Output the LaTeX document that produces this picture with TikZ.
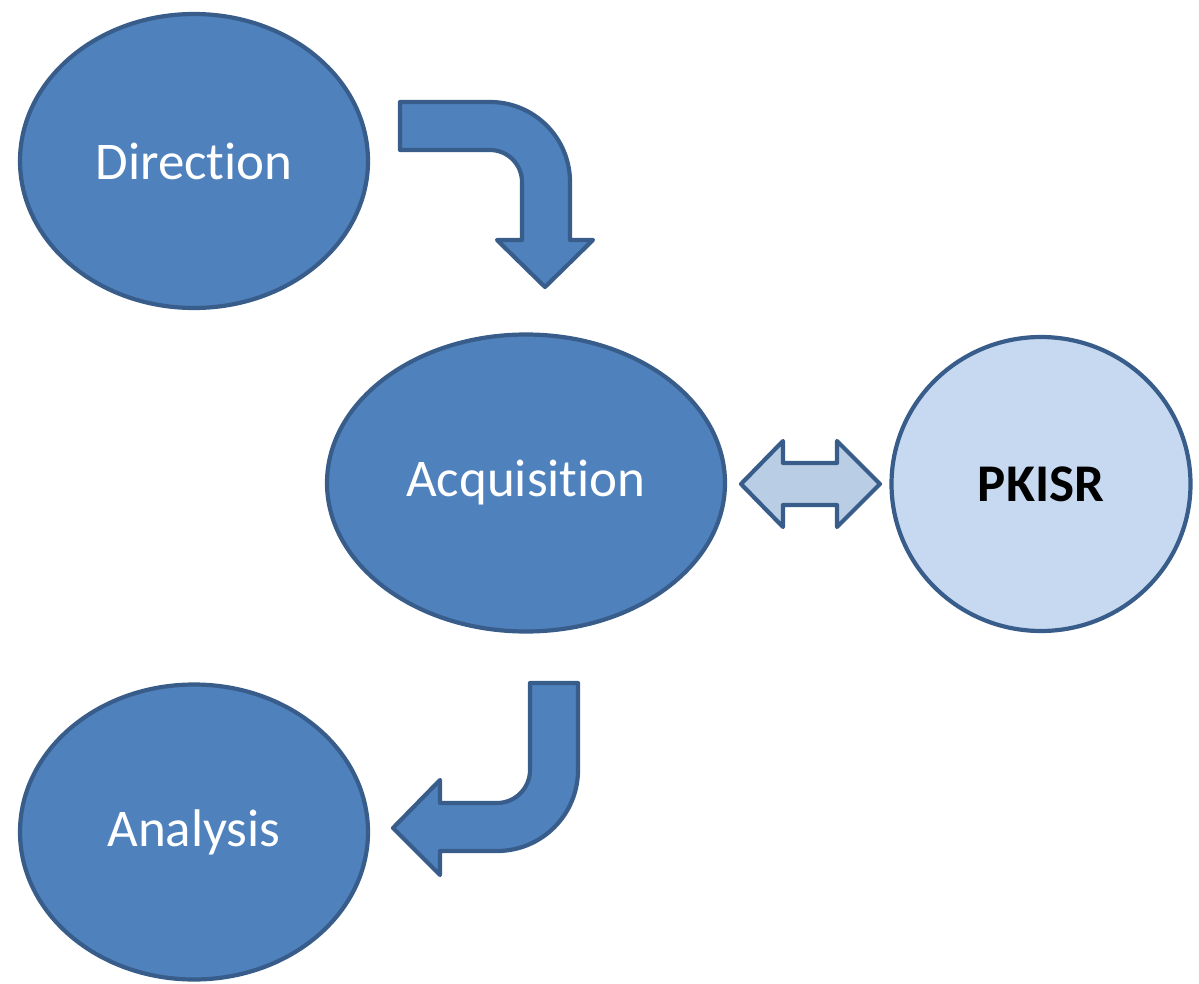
\documentclass[tikz,border=0pt]{standalone}
\usepackage{fontspec}
\setmainfont{Carlito}[Ligatures=NoCommon]
\usetikzlibrary{shapes.geometric}
\definecolor{stagefill}{HTML}{4F81BD}
\definecolor{stageline}{HTML}{385D8A}
\definecolor{srcfill}{HTML}{C6D9F1}
\definecolor{dblfill}{HTML}{B9CDE5}
\tikzset{
  stage/.style={ellipse,draw=stageline,fill=stagefill,line width=4.2pt,
    inner sep=0pt,text=white,font=\fontsize{53}{63}\selectfont},
  srcnode/.style={stage,fill=srcfill,text=black,
    font=\fontsize{53}{63}\selectfont\bfseries},
  bentarrow/.style={draw=stageline,fill=stagefill,line width=4.2pt,
    line join=round},
  dblarrow/.style={bentarrow,fill=dblfill},
}
\begin{document}
\begin{tikzpicture}[x=1pt,y=-1pt]
  \useasboundingbox (0,0) rectangle (1199,984);
  % stages
  \node[stage,minimum width=348pt,minimum height=294pt] (direction) at (194,161) {Direction};
  \node[stage,minimum width=398pt,minimum height=297pt] (acquisition) at (526,483) {Acquisition};
  \node[stage,minimum width=348pt,minimum height=295pt] (analysis) at (194,832) {Analysis};
  \node[srcnode,minimum width=299pt,minimum height=294pt] (pkisr) at (1041,484) {PKISR};
  % block arrows
  \draw[bentarrow] (400,102) -- (490,102) arc[start angle=-90,end angle=0,radius=80]
    -- (570,240) -- (593,240) -- (545,287) -- (497,240) -- (522,240) -- (522,182)
    arc[start angle=0,end angle=-90,radius=32] -- (400,150) -- cycle;
  \draw[bentarrow] (530,683) -- (578,683) -- (578,770) arc[start angle=0,end angle=90,radius=81]
    -- (440,851) -- (440,875) -- (393,828) -- (440,780) -- (440,803) -- (497,803)
    arc[start angle=90,end angle=0,radius=33] -- cycle;
  \draw[dblarrow] (741,484) -- (783,441) -- (783,463) -- (837,463) -- (837,441)
    -- (880,484) -- (837,527) -- (837,505) -- (783,505) -- (783,527) -- cycle;
\end{tikzpicture}
\end{document}
